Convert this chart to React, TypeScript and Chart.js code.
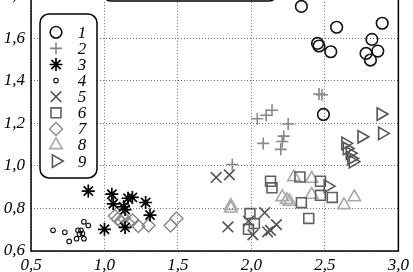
import React, { useEffect, useRef } from 'react';
import { Chart, registerables } from 'chart.js';
import { drawPoint } from 'chart.js/helpers';

Chart.register(...registerables);

const xTickValues = [0.5, 1.0, 1.5, 2.0, 2.5, 3.0];
const yTickValues = [0.6, 0.8, 1.0, 1.2, 1.4, 1.6, 1.8];
const seriesLabels = ['1', '2', '3', '4', '5', '6', '7', '8', '9'];

const series1: [number, number][] = [[2.34, 1.75], [2.58, 1.652], [2.89, 1.671], [2.45, 1.576], [2.46, 1.564], [2.54, 1.537], [2.82, 1.595], [2.78, 1.529], [2.86, 1.54], [2.81, 1.498], [2.49, 1.242]];
const series2: [number, number][] = [[1.87, 1.007], [2.04, 1.222], [2.10, 1.238], [2.14, 1.262], [2.08, 1.106], [2.25, 1.197], [2.22, 1.14], [2.21, 1.115], [2.20, 1.078], [2.46, 1.338], [2.48, 1.335]];
const series3: [number, number][] = [[0.89, 0.882], [1.05, 0.867], [1.06, 0.822], [1.13, 0.808], [1.14, 0.795], [1.16, 0.848], [1.19, 0.852], [1.28, 0.828], [1.31, 0.769], [1.00, 0.702], [1.14, 0.711]];
const series4: [number, number][] = [[0.65, 0.697], [0.73, 0.688], [0.76, 0.645], [0.81, 0.658], [0.82, 0.697], [0.84, 0.697], [0.83, 0.679], [0.85, 0.682], [0.86, 0.658], [0.86, 0.737], [0.89, 0.72]];
const series5: [number, number][] = [[1.76, 0.946], [1.85, 0.958], [1.84, 0.713], [1.98, 0.74], [2.09, 0.78], [2.01, 0.676], [2.11, 0.69], [2.13, 0.697], [2.17, 0.724]];
const series6: [number, number][] = [[2.13, 0.928], [2.14, 0.897], [2.33, 0.948], [2.47, 0.928], [2.47, 0.862], [2.55, 0.852], [2.34, 0.827], [2.39, 0.753], [1.99, 0.776], [2.02, 0.729], [1.98, 0.702]];
const series7: [number, number][] = [[1.07, 0.765], [1.09, 0.75], [1.11, 0.74], [1.13, 0.755], [1.16, 0.73], [1.19, 0.745], [1.23, 0.718], [1.30, 0.72], [1.45, 0.72], [1.49, 0.753]];
const series8: [number, number][] = [[1.86, 0.812], [1.86, 0.80], [2.21, 0.854], [2.24, 0.84], [2.26, 0.832], [2.29, 0.948], [2.41, 0.94], [2.41, 0.865], [2.63, 0.816], [2.70, 0.853]];
const series9: [number, number][] = [[2.88, 1.244], [2.89, 1.153], [2.75, 1.137], [2.64, 1.106], [2.65, 1.082], [2.67, 1.06], [2.68, 1.035], [2.69, 1.02], [2.52, 0.905]];

const allSeries = [series1, series2, series3, series4, series5, series6, series7, series8, series9];

const styles = [
  { pointStyle: 'circle', radius: 5.8, color: '#111', width: 1.6, rotation: 0 },
  { pointStyle: 'cross', radius: 6, color: '#888', width: 1.6, rotation: 0 },
  { pointStyle: 'star', radius: 6.5, color: '#000', width: 1.7, rotation: 0 },
  { pointStyle: 'circle', radius: 2.3, color: '#111', width: 1.1, rotation: 0 },
  { pointStyle: 'crossRot', radius: 7.5, color: '#555', width: 1.6, rotation: 0 },
  { pointStyle: 'rect', radius: 7, color: '#606060', width: 1.6, rotation: 0 },
  { pointStyle: 'rectRot', radius: 6.5, color: '#888', width: 1.4, rotation: 0 },
  { pointStyle: 'triangle', radius: 7.2, color: '#a8a8a8', width: 1.6, rotation: 0 },
  { pointStyle: 'triangle', radius: 7.2, color: '#555', width: 1.6, rotation: 90 },
];

const OFFSET = 30;
const FONT = 'Liberation Serif';

const decor = {
  id: 'decor',
  afterDatasetsDraw(chart: any) {
    const { ctx, chartArea } = chart;
    ctx.save();
    ctx.strokeStyle = '#000';
    ctx.lineWidth = 1.5;
    ctx.strokeRect(chartArea.left, chartArea.top, chartArea.right - chartArea.left, chartArea.bottom - chartArea.top);

    // top (cropped) box
    ctx.beginPath();
    ctx.roundRect(103, OFFSET - 50, 174, 50 + 1, 8);
    ctx.fillStyle = '#fff';
    ctx.fill();
    ctx.stroke();

    // legend box
    const bx = 40, by = OFFSET + 14, bw = 57, bh = 164;
    ctx.beginPath();
    ctx.roundRect(bx, by, bw, bh, 9);
    ctx.fillStyle = '#fff';
    ctx.fill();
    ctx.lineWidth = 1.5;
    ctx.strokeStyle = '#000';
    ctx.stroke();

    ctx.font = `italic 17px "${FONT}"`;
    ctx.textAlign = 'center';
    ctx.textBaseline = 'middle';
    seriesLabels.forEach((lab, i) => {
      const y = OFFSET + 32.3 + i * 16.1;
      const st = styles[i];
      ctx.strokeStyle = st.color;
      ctx.fillStyle = 'rgba(0,0,0,0)';
      ctx.lineWidth = st.width;
      drawPoint(ctx, { pointStyle: st.pointStyle, rotation: st.rotation, radius: st.radius, borderWidth: st.width } as any, 56, y);
      ctx.fillStyle = '#000';
      ctx.fillText(lab, 82, y + 1);
    });
    ctx.restore();
  },
};

export default function App() {
  const ref = useRef<HTMLCanvasElement>(null);
  useEffect(() => {
    if (!ref.current) return;
    const fmt = (v: any) => Number(v).toFixed(1).replace('.', ',');
    const chart = new Chart(ref.current, {
      type: 'scatter',
      data: {
        datasets: allSeries.map((s, i) => ({
          label: seriesLabels[i],
          data: s.map(([x, y]) => ({ x, y })),
          pointStyle: styles[i].pointStyle as any,
          pointRadius: styles[i].radius,
          pointRotation: styles[i].rotation,
          borderColor: styles[i].color,
          backgroundColor: 'rgba(0,0,0,0)',
          pointBorderWidth: styles[i].width,
          borderWidth: styles[i].width,
          clip: false as any,
        })),
      },
      options: {
        animation: false,
        responsive: false,
        devicePixelRatio: 1,
        layout: { padding: { top: OFFSET - 4.2, right: 2.5, left: 0, bottom: 0 } },
        plugins: { legend: { display: false }, tooltip: { enabled: false } },
        scales: {
          x: {
            type: 'linear',
            min: 0.5,
            max: 3.0,
            afterBuildTicks: (s: any) => { s.ticks = xTickValues.map((v) => ({ value: v })); },
            afterFit: (s: any) => { s.height = 21; },
            ticks: { callback: fmt, color: '#000', padding: 4, maxRotation: 0, font: { family: FONT, size: 17, style: 'italic' } },
            grid: { color: '#6e6e6e', lineWidth: 1, drawTicks: false },
            border: { display: false, dash: [1, 2] },
          },
          y: {
            type: 'linear',
            min: 0.6,
            max: 1.8,
            afterBuildTicks: (s: any) => { s.ticks = yTickValues.map((v) => ({ value: v })); },
            afterFit: (s: any) => { s.width = 31; },
            ticks: { callback: fmt, color: '#000', padding: 6, font: { family: FONT, size: 17, style: 'italic' } },
            grid: { color: '#6e6e6e', lineWidth: 1, drawTicks: false },
            border: { display: false, dash: [1, 2] },
          },
        },
      },
      plugins: [decor],
    });
    return () => chart.destroy();
  }, []);
  return (
    <div style={{ position: 'fixed', left: 0, top: 0, width: 413, height: 272, overflow: 'hidden', background: '#fff' }}>
      <canvas ref={ref} width={413} height={272 + OFFSET} style={{ position: 'absolute', left: 0, top: -OFFSET, width: 413, height: 272 + OFFSET }} />
    </div>
  );
}
